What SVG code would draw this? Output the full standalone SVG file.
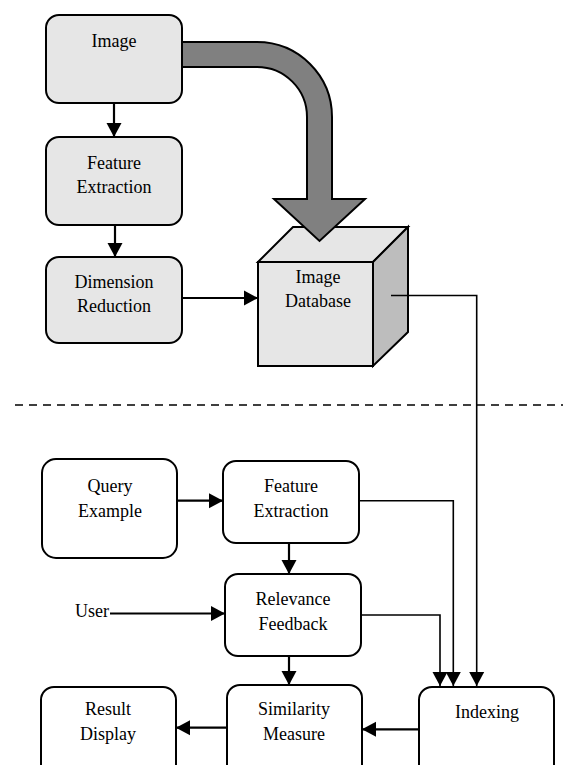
<svg xmlns="http://www.w3.org/2000/svg" width="563" height="765" viewBox="0 0 563 765">
<defs>
<marker id="ah" markerUnits="userSpaceOnUse" markerWidth="16" markerHeight="16" refX="14" refY="8" orient="auto">
<path d="M0,0.5 L14,8 L0,15.5 Z" fill="#000"/>
</marker>
<style>
.box{stroke:#000;stroke-width:2;}
.g{fill:#e6e6e6;}
.w{fill:#fff;}
text{font-family:"Liberation Serif","Times New Roman",serif;font-size:18px;fill:#000;text-anchor:middle;}
.c{fill:none;stroke:#000;stroke-width:2.2;}
.t{fill:none;stroke:#000;stroke-width:1.6;}
</style>
</defs>
<rect width="563" height="765" fill="#fff"/>

<g id="image-database">
<polygon points="258,262 293,227 408,227 373,262" fill="#e6e6e6" stroke="#000" stroke-width="2" stroke-linejoin="miter"/>
<polygon points="373,262 408,227 408,332 373,366" fill="#bdbdbd" stroke="#000" stroke-width="2"/>
<rect x="258" y="262" width="115" height="104" fill="#e6e6e6" stroke="#000" stroke-width="2"/>
<text x="318" y="283">Image</text>
<text x="318" y="307">Database</text>
</g>

<g id="big-arrow">
<path d="M182,42 H257 A75,75 0 0 1 332,117 V199 H365 L319.5,241 L274,199 H307 V117 A50,50 0 0 0 257,67 H182 Z" fill="#808080" stroke="#000" stroke-width="2" stroke-linejoin="miter"/>
</g>

<g id="image">
<rect class="box g" x="46" y="15" width="136" height="88" rx="13"/>
<text x="114" y="47">Image</text>
</g>
<g id="feature-extraction-top">
<rect class="box g" x="46" y="137" width="136" height="88" rx="13"/>
<text x="114" y="169">Feature</text>
<text x="114" y="193">Extraction</text>
</g>
<g id="dimension-reduction">
<rect class="box g" x="46" y="257" width="136" height="86" rx="13"/>
<text x="114" y="288">Dimension</text>
<text x="114" y="312">Reduction</text>
</g>

<g id="query-example">
<rect class="box w" x="42" y="459" width="135" height="99" rx="14"/>
<text x="110" y="492">Query</text>
<text x="110" y="517">Example</text>
</g>
<g id="feature-extraction-bottom">
<rect class="box w" x="223" y="461" width="136" height="82" rx="13"/>
<text x="291" y="492">Feature</text>
<text x="291" y="517">Extraction</text>
</g>
<g id="relevance-feedback">
<rect class="box w" x="225" y="574" width="136" height="82" rx="13"/>
<text x="293" y="605">Relevance</text>
<text x="293" y="630">Feedback</text>
</g>
<g id="user">
<text x="92" y="617">User</text>
</g>
<g id="similarity-measure">
<rect class="box w" x="227" y="685" width="135" height="95" rx="13"/>
<text x="294" y="715">Similarity</text>
<text x="294" y="740">Measure</text>
</g>
<g id="result-display">
<rect class="box w" x="41" y="687" width="135" height="95" rx="13"/>
<text x="108" y="715">Result</text>
<text x="108" y="740">Display</text>
</g>
<g id="indexing">
<rect class="box w" x="419" y="687" width="135" height="95" rx="13"/>
<text x="487" y="718">Indexing</text>
</g>

<g id="connectors">
<line x1="15" y1="405" x2="563" y2="405" stroke="#000" stroke-width="1.6" stroke-dasharray="8,6"/>
<line class="c" x1="114" y1="103" x2="114" y2="137" marker-end="url(#ah)"/>
<line class="c" x1="115" y1="225" x2="115" y2="257" marker-end="url(#ah)"/>
<line class="c" x1="182" y1="298" x2="258" y2="298" marker-end="url(#ah)"/>
<polyline class="t" points="391,295.5 476.7,295.5 476.7,686" marker-end="url(#ah)"/>
<line class="c" x1="177" y1="500.7" x2="223" y2="500.7" marker-end="url(#ah)"/>
<line class="c" x1="289" y1="543" x2="289" y2="574" marker-end="url(#ah)"/>
<line class="c" x1="110" y1="613.5" x2="225" y2="613.5" marker-end="url(#ah)"/>
<line class="c" x1="289" y1="656" x2="289" y2="685" marker-end="url(#ah)"/>
<polyline class="t" points="359,500.7 453.3,500.7 453.3,686" marker-end="url(#ah)"/>
<polyline class="t" points="361,615 440,615 440,686" marker-end="url(#ah)"/>
<line class="c" x1="227" y1="727.7" x2="176" y2="727.7" marker-end="url(#ah)"/>
<line class="c" x1="419" y1="729.3" x2="362" y2="729.3" marker-end="url(#ah)"/>
</g>
</svg>
